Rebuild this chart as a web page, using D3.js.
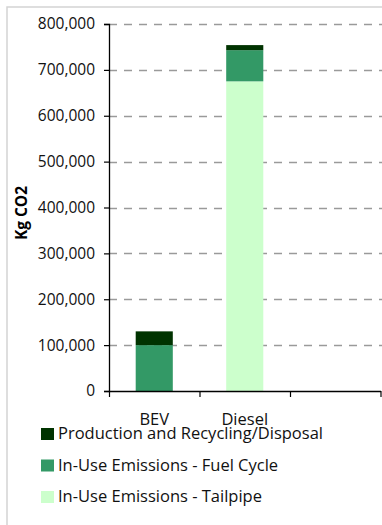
<!DOCTYPE html>
<html>
<head>
<meta charset="utf-8">
<script src="https://cdn.jsdelivr.net/npm/d3@7"></script>
<style>
  html, body { margin: 0; padding: 0; background: #fff; }
  svg { display: block; font-family: "Open Sans", "Noto Sans", sans-serif; }
</style>
</head>
<body>
<svg id="chart" width="382" height="525"></svg>
<script>
// Life-cycle CO2 emissions per vehicle type (kg CO2)
const categories = ["BEV", "Diesel", ""];
const seriesNames = [
  "In-Use Emissions - Tailpipe",
  "In-Use Emissions - Fuel Cycle",
  "Production and Recycling/Disposal"
];
const tailpipe    = [0, 675000, 0];
const fuelCycle   = [100000, 68000, 0];
const production  = [30000, 11000, 0];
const seriesColors = ["#ccffcc", "#339966", "#003300"];
const yTicks = [0, 100000, 200000, 300000, 400000, 500000, 600000, 700000, 800000];
const yTitle = "Kg CO2";

const svg = d3.select("#chart");
const margin = { left: 109, right: 1.5, top: 24, bottom: 134 };
const W = 382, H = 525;

// frame around the chart area
svg.append("rect")
  .attr("x", 7).attr("y", 7)
  .attr("width", W + 10).attr("height", H + 10)
  .attr("fill", "none").attr("stroke", "#d4d4d4").attr("stroke-width", 1.5);

const x = d3.scaleBand()
  .domain(categories.map((c, i) => i))
  .range([margin.left, W - margin.right])
  .paddingInner(0.59).paddingOuter(0.295);

const xAxisScale = d3.scaleLinear().domain([0, categories.length]).range([margin.left, W - margin.right]);

const y = d3.scaleLinear().domain([0, 800000]).range([H - margin.bottom, margin.top]);

// dashed gridlines
svg.append("g")
  .selectAll("line")
  .data(yTicks.filter(d => d > 0))
  .join("line")
  .attr("x1", margin.left).attr("x2", W)
  .attr("y1", d => Math.round(y(d)) + 0.5).attr("y2", d => Math.round(y(d)) + 0.5)
  .attr("stroke", "#9a9a9a").attr("stroke-width", 1.3)
  .attr("stroke-dasharray", "8,7");

// stacked bars
const rows = categories.map((c, i) => ({
  idx: i,
  [seriesNames[0]]: tailpipe[i],
  [seriesNames[1]]: fuelCycle[i],
  [seriesNames[2]]: production[i]
}));
const stack = d3.stack().keys(seriesNames)(rows);

svg.append("g")
  .selectAll("g")
  .data(stack)
  .join("g")
  .attr("fill", (d, i) => seriesColors[i])
  .selectAll("rect")
  .data(d => d)
  .join("rect")
  .attr("x", d => x(d.data.idx))
  .attr("width", x.bandwidth())
  .attr("y", d => y(d[1]))
  .attr("height", d => Math.max(0, y(d[0]) - y(d[1])));

// y axis
const yAxis = svg.append("g")
  .attr("transform", `translate(${margin.left},0)`)
  .call(d3.axisLeft(y).tickValues(yTicks).tickSize(5).tickPadding(9)
    .tickFormat(d3.format(",")));
yAxis.select(".domain").attr("stroke", "#000").attr("stroke-width", 1.3);
yAxis.selectAll(".tick line").attr("stroke", "#000").attr("stroke-width", 1.2);
yAxis.selectAll(".tick text").attr("font-size", 15.5).attr("fill", "#111")
  .attr("font-family", "Open Sans, sans-serif");

// x axis with boundary ticks between categories
const xAxis = svg.append("g")
  .attr("transform", `translate(0,${H - margin.bottom})`)
  .call(d3.axisBottom(xAxisScale).tickValues(d3.range(categories.length + 1))
    .tickSize(6).tickSizeOuter(0).tickFormat(""));
xAxis.select(".domain").attr("stroke", "#000").attr("stroke-width", 1.5);
xAxis.selectAll(".tick line").attr("stroke", "#000").attr("stroke-width", 1.2);

// category labels
svg.append("g")
  .selectAll("text")
  .data(categories)
  .join("text")
  .attr("x", (d, i) => (xAxisScale(i) + xAxisScale(i + 1)) / 2)
  .attr("y", 425)
  .attr("text-anchor", "middle")
  .attr("font-size", 16.5)
  .attr("fill", "#111")
  .text(d => d);

// y axis title
svg.append("text")
  .attr("transform", "translate(27,213) rotate(-90)")
  .attr("text-anchor", "middle")
  .attr("font-size", 15.5)
  .attr("font-weight", "bold")
  .attr("fill", "#000")
  .text(yTitle);

// legend (top entry is the top of the stack)
const legendOrder = [2, 1, 0];
const legend = svg.append("g")
  .selectAll("g")
  .data(legendOrder)
  .join("g")
  .attr("transform", (d, i) => `translate(41,${428 + i * 31.5})`);
legend.append("rect")
  .attr("width", 13).attr("height", 12)
  .attr("fill", d => seriesColors[d]);
legend.append("text")
  .attr("x", 17).attr("y", 11)
  .attr("font-size", 16.5)
  .attr("fill", "#111")
  .text(d => seriesNames[d]);
</script>
</body>
</html>
